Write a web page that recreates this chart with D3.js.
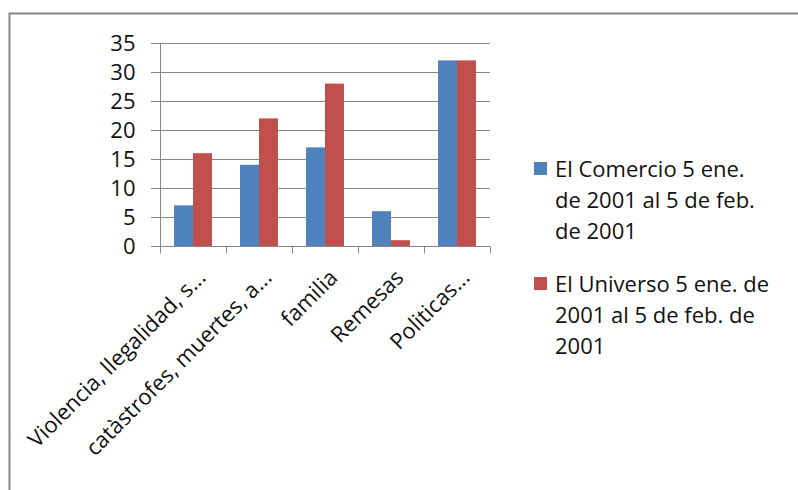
<!DOCTYPE html>
<html>
<head>
    <meta charset="utf-8">
    <title>Noticias por tema</title>
    <script src="https://cdnjs.cloudflare.com/ajax/libs/d3/7.8.5/d3.min.js"></script>
    <style>
        body { margin: 0; background: white; }
        svg { display: block; font-family: "Open Sans", sans-serif; }
    </style>
</head>
<body>
    <svg id="chart"></svg>
    <script>
        const categories = ["Violencia, llegalidad, s...", "catàstrofes, muertes, a...", "familia", "Remesas", "Politicas..."];
        const seriesNames = ["El Comercio 5 ene. de 2001 al 5 de feb. de 2001", "El Universo 5 ene. de 2001 al 5 de feb. de 2001"];
        const comercio = [7, 14, 17, 6, 32];
        const universo = [16, 22, 28, 1, 32];
        const yTicks = [0, 5, 10, 15, 20, 25, 30, 35];
        const legendLines = [
            ["El Comercio 5 ene.", "de 2001 al 5 de feb.", "de 2001"],
            ["El Universo 5 ene. de", "2001 al 5 de feb. de", "2001"]
        ];
        const colors = ["#4F81BD", "#C0504D"];

        const width = 798, height = 490;
        const svg = d3.select("#chart").attr("width", width).attr("height", height);

        // outer frame
        svg.append("rect")
            .attr("x", 9.5).attr("y", 13.5)
            .attr("width", 800).attr("height", 500)
            .attr("fill", "none")
            .attr("stroke", "#868686")
            .attr("stroke-width", 2);

        const x0 = d3.scaleBand().domain(categories).range([160, 490]).padding(0);
        const x1 = d3.scaleBand().domain([0, 1]).range([0, x0.bandwidth()]).paddingInner(0).paddingOuter(0.74);
        const y = d3.scaleLinear().domain([0, 35]).range([246, 43]);

        // gridlines
        svg.append("g")
            .selectAll("line")
            .data(yTicks)
            .join("line")
            .attr("x1", 151).attr("x2", 490)
            .attr("y1", d => Math.round(y(d)) + 0.5)
            .attr("y2", d => Math.round(y(d)) + 0.5)
            .attr("stroke", "#868686")
            .attr("stroke-width", 1);

        // bars
        const rows = categories.map((c, i) => ({ cat: c, vals: [comercio[i], universo[i]] }));
        const groups = svg.append("g")
            .selectAll("g")
            .data(rows)
            .join("g")
            .attr("transform", d => `translate(${x0(d.cat)},0)`);
        groups.selectAll("rect")
            .data(d => d.vals.map((v, k) => ({ k, v })))
            .join("rect")
            .attr("x", d => x1(d.k))
            .attr("width", x1.bandwidth())
            .attr("y", d => y(d.v))
            .attr("height", d => y(0) - y(d.v))
            .attr("fill", d => colors[d.k]);

        // y axis
        const yAxis = svg.append("g")
            .attr("transform", "translate(160.5,0)")
            .call(d3.axisLeft(y).tickValues(yTicks).tickSize(9).tickPadding(16));
        yAxis.select(".domain").attr("stroke", "#868686").attr("d", `M0,${y(35)}V${y(0)}`);
        yAxis.selectAll(".tick line").remove();
        yAxis.selectAll("text")
            .attr("font-family", "Open Sans, sans-serif")
            .attr("font-size", 22)
            .attr("fill", "#111");

        // x axis
        const xAxis = svg.append("g")
            .attr("transform", `translate(0,${Math.round(y(0)) + 0.5})`)
            .call(d3.axisBottom(x0).tickSize(0).tickFormat(""));
        xAxis.select(".domain").attr("stroke", "#868686").attr("d", "M160,0H490");
        xAxis.selectAll(".tick").remove();
        xAxis.selectAll("line.sep")
            .data(d3.range(categories.length + 1))
            .join("line")
            .attr("class", "sep")
            .attr("x1", i => Math.round(160 + i * x0.step()) + 0.5)
            .attr("x2", i => Math.round(160 + i * x0.step()) + 0.5)
            .attr("y1", 0).attr("y2", 7)
            .attr("stroke", "#868686");

        // rotated category labels
        svg.append("g")
            .selectAll("text")
            .data(categories)
            .join("text")
            .attr("transform", d => `translate(${x0(d) + x0.bandwidth() / 2 + 14},279) rotate(-45)`)
            .attr("text-anchor", "end")
            .attr("font-size", 22)
            .attr("fill", "#111")
            .text(d => d);

        // legend
        const legend = svg.append("g");
        const legendTop = [162, 277];
        seriesNames.forEach((name, k) => {
            legend.append("rect")
                .attr("x", 534).attr("y", legendTop[k])
                .attr("width", 13).attr("height", 13)
                .attr("fill", colors[k]);
            legend.append("text")
                .attr("x", 555).attr("y", legendTop[k] + 15)
                .attr("font-size", 22)
                .attr("fill", "#111")
                .selectAll("tspan")
                .data(legendLines[k])
                .join("tspan")
                .attr("x", 555)
                .attr("dy", (d, i) => i === 0 ? 0 : 31)
                .text(d => d);
        });
    </script>
</body>
</html>
